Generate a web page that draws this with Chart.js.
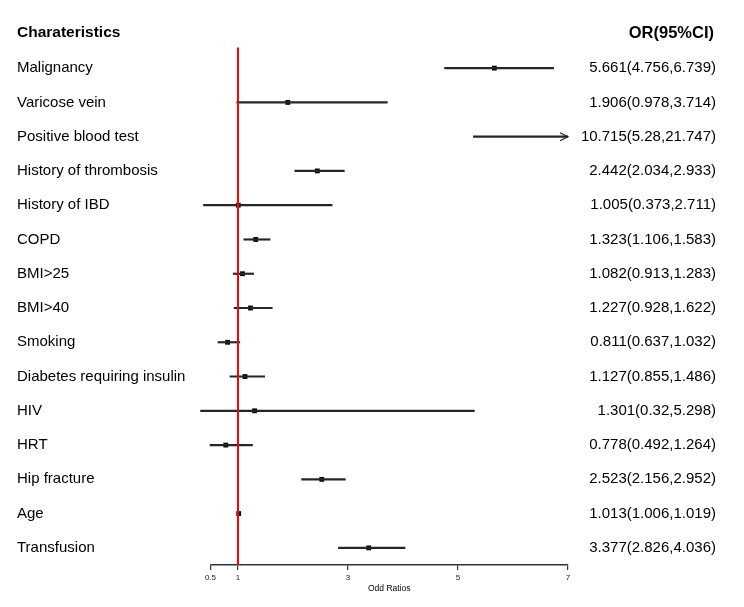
<!DOCTYPE html>
<html>
<head>
<meta charset="utf-8">
<script src="https://cdn.jsdelivr.net/npm/chart.js@4/dist/chart.umd.min.js"></script>
<style>
html,body{margin:0;padding:0;background:#fff;}
canvas{display:block;}
</style>
</head>
<body>
<canvas id="c" width="744" height="607"></canvas>
<script>
const characteristics = ["Malignancy","Varicose vein","Positive blood test","History of thrombosis","History of IBD","COPD","BMI>25","BMI>40","Smoking","Diabetes requiring insulin","HIV","HRT","Hip fracture","Age","Transfusion"];
const oddsRatio = [5.661,1.906,10.715,2.442,1.005,1.323,1.082,1.227,0.811,1.127,1.301,0.778,2.523,1.013,3.377];
const ciLower  = [4.756,0.978,5.28,2.034,0.373,1.106,0.913,0.928,0.637,0.855,0.32,0.492,2.156,1.006,2.826];
const ciUpper  = [6.739,3.714,21.747,2.933,2.711,1.583,1.283,1.622,1.032,1.486,5.298,1.264,2.952,1.019,4.036];
const xTickValues = [0.5,1,3,5,7];
const referenceValue = 1;
const headerLeft = "Charateristics";
const headerRight = "OR(95%CI)";
const axisTitle = "Odd Ratios";

const orLabels = oddsRatio.map((v,i)=> `${v}(${ciLower[i]},${ciUpper[i]})`);
const FONT = "'Liberation Sans', Arial, sans-serif";
const clipRight = {left:false, top:false, right:0, bottom:false};

const forestPlugin = {
  id:'forest',
  afterDatasetDraw(chart, args){
    if (args.index !== 0) return;
    const {ctx, chartArea} = chart;
    const x = chart.scales.x;
    const px = x.getPixelForValue(referenceValue);
    ctx.save();
    ctx.strokeStyle = '#ff0000';
    ctx.lineWidth = 2;
    ctx.beginPath();
    ctx.moveTo(px, chartArea.top - 3.5);
    ctx.lineTo(px, chartArea.bottom);
    ctx.stroke();
    ctx.strokeStyle = '#222';
    ctx.lineWidth = 1.2;
    const y = chart.scales.y;
    ciUpper.forEach((u,i)=>{
      if (u > x.max) {
        const ax = x.getPixelForValue(x.max);
        const ay = y.getPixelForValue(i);
        ctx.beginPath();
        ctx.moveTo(ax-8, ay-4);
        ctx.lineTo(ax, ay);
        ctx.lineTo(ax-8, ay+4);
        ctx.stroke();
      }
    });
    ctx.restore();
  },
  afterDraw(chart){
    const {ctx} = chart;
    ctx.save();
    ctx.fillStyle = '#000';
    ctx.textBaseline = 'middle';
    ctx.font = "bold 15.5px " + FONT;
    ctx.textAlign = 'left';
    ctx.fillText(headerLeft, 17, 33);
    ctx.font = "bold 16.5px " + FONT;
    ctx.textAlign = 'right';
    ctx.fillText(headerRight, 714, 33);
    ctx.restore();
  }
};

new Chart(document.getElementById('c'), {
  type:'bar',
  data:{
    labels: characteristics,
    datasets:[
      {
        type:'bar',
        data: ciLower.map((l,i)=>[l, ciUpper[i]]),
        backgroundColor:'#262626',
        borderWidth:0,
        barThickness:1.5,
        clip: clipRight,
        xAxisID:'x', yAxisID:'y'
      },
      {
        type:'scatter',
        data: oddsRatio.map((v,i)=>({x:v, y:characteristics[i]})),
        pointStyle:'rect',
        pointRadius:3.4,
        pointHoverRadius:3.4,
        backgroundColor:'#000',
        borderColor:'#000',
        borderWidth:0,
        showLine:false,
        clip: clipRight,
        xAxisID:'x', yAxisID:'y'
      }
    ]
  },
  options:{
    indexAxis:'y',
    responsive:false,
    animation:false,
    events:[],
    layout:{padding:{left:17, right:28, top:51, bottom:0}},
    plugins:{legend:{display:false}, tooltip:{enabled:false}},
    scales:{
      x:{
        type:'linear',
        position:'bottom',
        min:0.5, max:7,
        afterBuildTicks(s){ s.ticks = xTickValues.map(v=>({value:v})); },
        afterFit(s){ s.height = 42; },
        grid:{display:true, drawOnChartArea:false, drawTicks:true, tickLength:5, color:'#333', lineWidth:1.2},
        border:{display:true, color:'#333', width:1.5},
        ticks:{font:{family:FONT, size:8}, color:'#222', padding:3, maxRotation:0, autoSkip:false,
               callback:(v)=>String(v)},
        title:{display:true, text:axisTitle, font:{family:FONT, size:8.5}, color:'#000', padding:{top:0,bottom:13}}
      },
      y:{
        type:'category',
        position:'left',
        offset:true,
        afterFit(s){ s.width = 193.5; },
        grid:{display:false},
        border:{display:false},
        ticks:{crossAlign:'far', font:{family:FONT, size:15}, color:'#000', autoSkip:false}
      },
      y2:{
        type:'category',
        position:'right',
        labels: orLabels,
        offset:true,
        afterFit(s){ s.width = 148; },
        grid:{display:false},
        border:{display:false},
        ticks:{crossAlign:'far', font:{family:FONT, size:15}, color:'#000', autoSkip:false}
      }
    }
  },
  plugins:[forestPlugin]
});
</script>
</body>
</html>
